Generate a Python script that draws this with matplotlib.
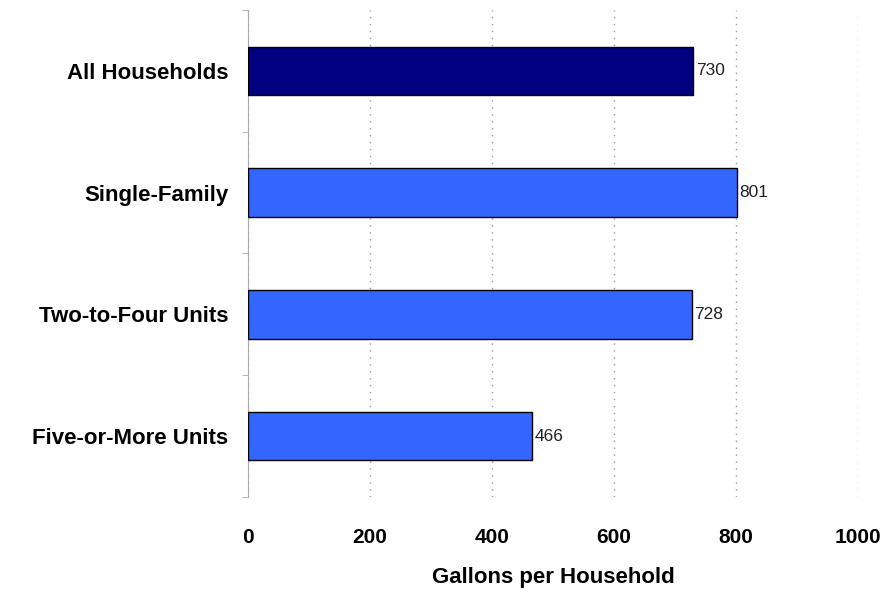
import matplotlib
matplotlib.use("Agg")
import matplotlib.pyplot as plt

categories = ["All Households", "Single-Family", "Two-to-Four Units", "Five-or-More Units"]
gallons = [730, 801, 728, 466]
bar_colors = ["#000080", "#3366FF", "#3366FF", "#3366FF"]
x_ticks = [0, 200, 400, 600, 800, 1000]

plt.rcParams["font.family"] = ["Liberation Sans", "DejaVu Sans"]

fig = plt.figure(figsize=(8.86, 6.04), dpi=100)
ax = fig.add_axes([0.2799, 0.1772, 0.6885, 0.8062])

ypos = list(range(len(categories)))
ax.barh(ypos, gallons, height=0.4, color=bar_colors, edgecolor="black", linewidth=1, zorder=3)
for y, v in zip(ypos, gallons):
    ax.text(v + 4, y, f"{v}", va="center", ha="left", fontsize=12.5, color="#222222")

ax.set_xlim(0, 1000)
ax.set_ylim(len(categories) - 0.5, -0.5)
ax.set_xticks(x_ticks)
ax.set_xticklabels([str(t) for t in x_ticks], fontsize=15, fontweight="bold")
ax.set_yticks(ypos)
ax.set_yticklabels(categories, fontsize=16, fontweight="bold")
ax.tick_params(axis="y", length=0, pad=14)
ax.tick_params(axis="x", length=0, pad=22)

# small marks on the category boundaries
ax.set_yticks([i - 0.5 for i in range(len(categories) + 1)], minor=True)
ax.tick_params(axis="y", which="minor", length=4, color="#aaaaaa")

ax.xaxis.grid(True, linestyle=(0, (1, 4)), color="#999999", linewidth=1)
ax.set_axisbelow(True)
for side in ("top", "right", "bottom"):
    ax.spines[side].set_visible(False)
ax.spines["left"].set_color("#aaaaaa")

ax.set_xlabel("Gallons per Household", fontsize=16, fontweight="bold", labelpad=15)

fig.savefig("out.png", dpi=100)
